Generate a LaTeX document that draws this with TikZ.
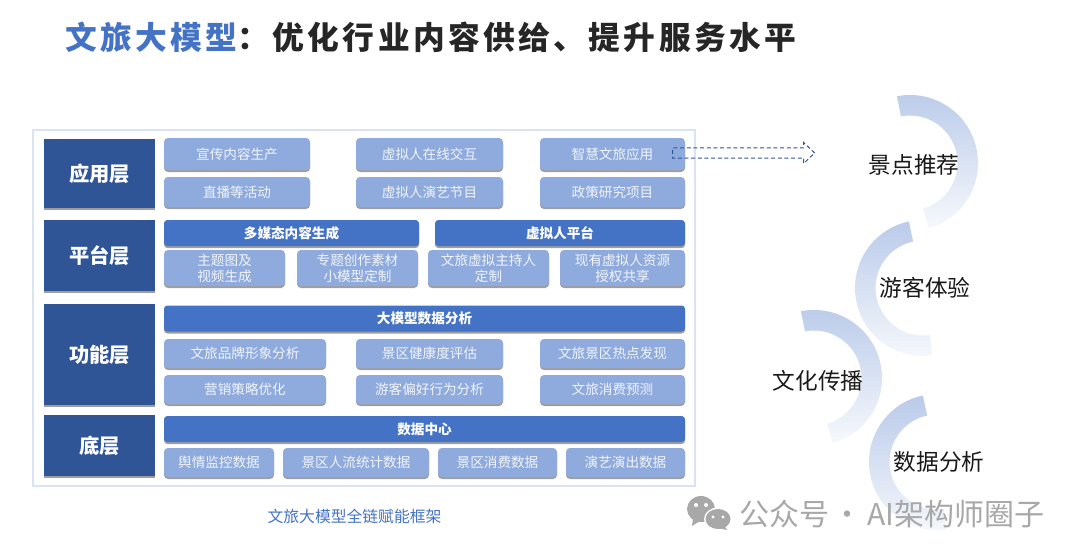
\documentclass[tikz,border=0pt]{standalone}
\usepackage{fontspec}
\setmainfont{Noto Sans CJK SC}
\newfontfamily\titlefont[LetterSpace=10.7]{Noto Sans CJK SC}
\usetikzlibrary{positioning,shadows,shapes.arrows}
\definecolor{headblue}{HTML}{2F5597}
\definecolor{barblue}{HTML}{4472C4}
\definecolor{liteblue}{HTML}{8FAADC}
\definecolor{frameblue}{HTML}{DAE3F3}
\definecolor{marktext}{HTML}{A8A8A8}

\begin{document}
\begin{tikzpicture}[
  x=0.75pt, y=-0.75pt,
  wd/.style={minimum width=#1*0.75pt},
  ht/.style={minimum height=#1*0.75pt},
  shadowed/.style={drop shadow={shadow xshift=0pt, shadow yshift=-1.5pt, opacity=.38, fill=black}},
  layer/.style={fill=headblue, text=white, wd=111, inner sep=0pt, shadowed,
                font=\fontsize{15.2}{15.2}\selectfont\bfseries},
  bar/.style={fill=barblue, text=white, rounded corners=2.5pt, ht=26, inner sep=0pt, shadowed,
              font=\fontsize{10.2}{10.2}\selectfont\bfseries},
  item/.style={fill=liteblue, text=white!88!liteblue, rounded corners=3pt, ht=30, inner sep=0pt,
               align=center, shadowed, font=\fontsize{10.2}{12}\selectfont},
  ring/.style={top color=#1, bottom color=#1!12!white, draw=none},
  ring/.default={liteblue!62!white},
  topic/.style={font=\fontsize{17}{17}\selectfont, text=black!90}
]
  \useasboundingbox (0,0) rectangle (1080,558);

  % title
  \node[anchor=west, inner sep=0pt, font=\titlefont\fontsize{23.8}{24}\selectfont\bfseries] (title) at (65,37)
    {\textcolor{barblue}{文旅大模型}\textcolor{black!85}{：优化行业内容供给、提升服务水平}};

  % frame
  \node[draw=frameblue, line width=1.2pt, wd=662, ht=356, inner sep=0pt] (frame) at (364,308) {};

  % layers
  \node[layer, ht=69] (app) at (99.5,173.5) {应用层};
  \node[layer, ht=71] (plat) at (99.5,255.5) {平台层};
  \node[layer, ht=101] (func) at (99.5,354.5) {功能层};
  \node[layer, ht=61] (base) at (99.5,445.5) {底层};

  % application layer
  \node[item, wd=146, ht=32] (a1) at (237,154) {宣传内容生产};
  \node[item, wd=147, ht=32] (a2) at (429.5,154) {虚拟人在线交互};
  \node[item, wd=145, ht=32] (a3) at (612.5,154) {智慧文旅应用};
  \node[item, wd=146] (a4) at (237,192) {直播等活动};
  \node[item, wd=147] (a5) at (429.5,192) {虚拟人演艺节目};
  \node[item, wd=145] (a6) at (612.5,192) {政策研究项目};

  % platform layer
  \node[bar, wd=255] (p1) at (291.5,233) {多媒态内容生成};
  \node[bar, wd=250] (p2) at (560,233) {虚拟人平台};
  \node[item, wd=121, ht=36] (p3) at (224.5,268) {主题图及\\视频生成};
  \node[item, wd=121, ht=36] (p4) at (357.5,268) {专题创作素材\\小模型定制};
  \node[item, wd=121, ht=36] (p5) at (488.5,268) {文旅虚拟主持人\\定制};
  \node[item, wd=125, ht=36] (p6) at (622.5,268) {现有虚拟人资源\\授权共享};

  % function layer
  \node[bar, wd=521] (f0) at (424.5,318.5) {大模型数据分析};
  \node[item, wd=162, ht=29] (f1) at (245,353.5) {文旅品牌形象分析};
  \node[item, wd=147, ht=29] (f2) at (429.5,353.5) {景区健康度评估};
  \node[item, wd=145, ht=29] (f3) at (612.5,353.5) {文旅景区热点发现};
  \node[item, wd=162, ht=29] (f4) at (245,389.5) {营销策略优化};
  \node[item, wd=147, ht=29] (f5) at (429.5,389.5) {游客偏好行为分析};
  \node[item, wd=145, ht=29] (f6) at (612.5,389.5) {文旅消费预测};

  % base layer
  \node[bar, wd=521] (b0) at (424.5,429) {数据中心};
  \node[item, wd=110, ht=29] (b1) at (219,462.5) {舆情监控数据};
  \node[item, wd=146, ht=29] (b2) at (356,462.5) {景区人流统计数据};
  \node[item, wd=119, ht=29] (b3) at (497.5,462.5) {景区消费数据};
  \node[item, wd=119, ht=29] (b4) at (625.5,462.5) {演艺演出数据};

  \node[text=barblue, font=\fontsize{11.85}{12}\selectfont] (cap) at (354.5,516) {文旅大模型全链赋能框架};

  % dashed arrow out of the frame
  \node[single arrow, draw=headblue, dashed, dash pattern=on 3pt off 2pt, line width=0.75pt, wd=20, ht=142, inner sep=0pt,
        inner ysep=3.4pt, single arrow head extend=4pt, single arrow tip angle=87,
        single arrow head indent=0pt] (out) at (741,153) {};

  % rings
  \shade[ring] (910,163) ++(-101:68) arc[start angle=-101, end angle=74, radius=68]
    -- ++(-106:20.5) arc[start angle=74, end angle=-101, radius=47.5] -- cycle;
  \shade[ring] (923,288) ++(-102:68) arc[start angle=-102, end angle=-278, radius=68]
    -- ++(-98:20.5) arc[start angle=-278, end angle=-102, radius=47.5] -- cycle;
  \shade[ring] (814,378) ++(-101:68) arc[start angle=-101, end angle=74, radius=68]
    -- ++(-106:20.5) arc[start angle=74, end angle=-101, radius=47.5] -- cycle;
  \shade[ring] (937,462) ++(-102:68) arc[start angle=-102, end angle=-278, radius=68]
    -- ++(-98:20.5) arc[start angle=-278, end angle=-102, radius=47.5] -- cycle;

  \node[topic] (t1) at (914,165) {景点推荐};
  \node[topic] (t2) at (925,288) {游客体验};
  \node[topic] (t3) at (818,381) {文化传播};
  \node[topic] (t4) at (939,462) {数据分析};

  % watermark
  \fill[marktext] (701,509) ellipse (14 and 13);
  \fill[marktext] (693,519) -- (692,526) -- (700,521) -- cycle;
  \fill[white] (718,519) ellipse (14 and 11.5);
  \fill[marktext] (718,519) ellipse (12.5 and 10);
  \fill[marktext] (724,525) -- (727,530) -- (718,528) -- cycle;
  \fill[white] (696,505) circle (2) (706,505) circle (2) (713,517) circle (1.6) (723,517) circle (1.6);
  \node[anchor=west, inner sep=0pt, text=marktext, font=\fontsize{22.5}{23}\selectfont] (mark) at (739,514)
    {公众号\hspace{2.6pt}·\,AI架构师圈子};
\end{tikzpicture}
\end{document}
